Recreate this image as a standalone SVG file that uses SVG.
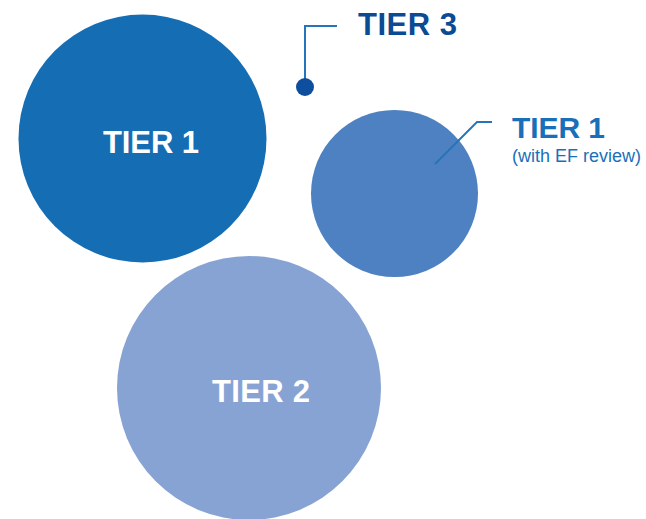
<svg xmlns="http://www.w3.org/2000/svg" width="646" height="519" viewBox="0 0 646 519">
<style>
.lbl{font-family:"Liberation Sans",Arial,sans-serif;font-weight:bold;fill:#fff;font-size:31px}
.conn{fill:none;stroke:#2475BC;stroke-width:2}
</style>
<rect width="646" height="519" fill="#fff"/>
<g id="tier1">
<circle cx="142.5" cy="138.5" r="124" fill="#156DB4"/>
<text class="lbl" x="103" y="153" textLength="96">TIER 1</text>
</g>
<g id="tier1-ef">
<circle cx="394.5" cy="193.5" r="83.5" fill="#4E81C1"/>
</g>
<g id="tier2">
<circle cx="249" cy="388" r="132" fill="#87A3D4"/>
<text class="lbl" x="212" y="402" textLength="98">TIER 2</text>
</g>
<g id="connectors">
<polyline class="conn" points="305,87 305,26 337,26"/>
<circle cx="305" cy="87" r="9" fill="#0E4E9E"/>
<polyline class="conn" points="435,164 477,122 492,122"/>
</g>
<g id="tier3-label">
<text x="358" y="35" font-family="Liberation Sans, Arial, sans-serif" font-weight="bold" font-size="31" fill="#0B4A94" textLength="99">TIER 3</text>
</g>
<g id="tier1-ef-label">
<text x="512" y="138" font-family="Liberation Sans, Arial, sans-serif" font-weight="bold" font-size="30" fill="#1A70B8" textLength="93">TIER 1</text>
<text x="512" y="162" font-family="Liberation Sans, Arial, sans-serif" font-size="18" fill="#1A70B8">(with EF review)</text>
</g>
</svg>
